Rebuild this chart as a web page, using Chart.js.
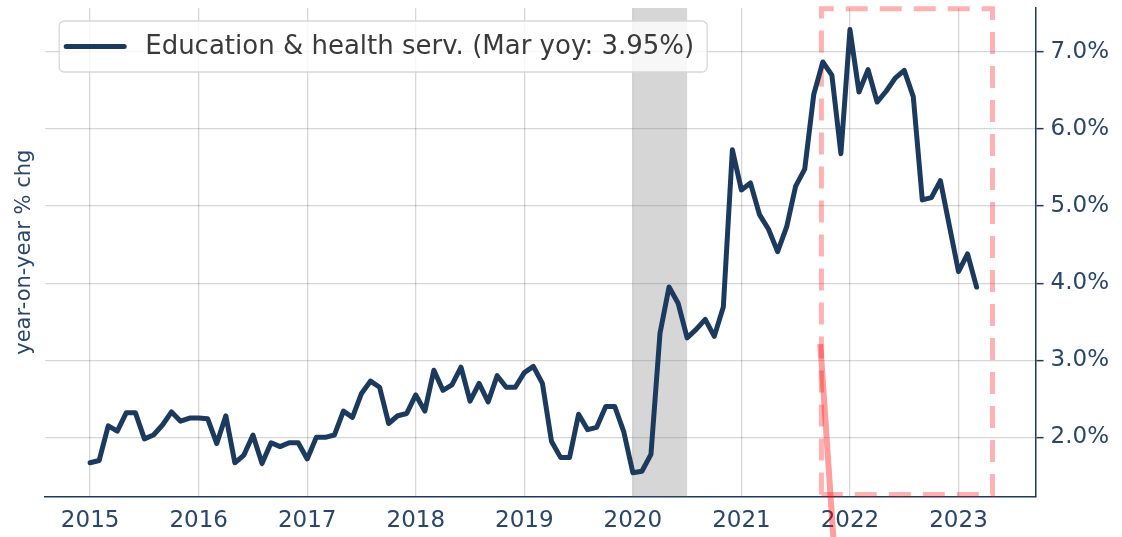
<!DOCTYPE html>
<html>
<head>
<meta charset="utf-8">
<script src="https://cdn.jsdelivr.net/npm/chart.js@4/dist/chart.umd.min.js"></script>
<style>
  html, body { margin: 0; padding: 0; background: #fff; }
</style>
</head>
<body>
<canvas id="cntEduHealth_Grafica" width="1122" height="537"></canvas>
<script>
var serieLabel = 'Education & health serv. (Mar yoy: 3.95%)';
var startYear = 2015;

// monthly yoy % chg, Jan 2015 .. Mar 2023
var eduHealthYoy = [
  1.67, 1.70, 2.15, 2.08, 2.32, 2.32, 1.98, 2.03, 2.16, 2.33, 2.21, 2.25,
  2.25, 2.24, 1.92, 2.28, 1.67, 1.77, 2.03, 1.66, 1.93, 1.88, 1.93, 1.93,
  1.72, 2.00, 2.00, 2.03, 2.34, 2.26, 2.57, 2.73, 2.65, 2.18, 2.28, 2.31,
  2.55, 2.34, 2.87, 2.61, 2.68, 2.91, 2.47, 2.70, 2.46, 2.80, 2.65, 2.65,
  2.84, 2.92, 2.70, 1.95, 1.74, 1.74, 2.30, 2.10, 2.13, 2.40, 2.40, 2.07,
  1.54, 1.56, 1.78, 3.35, 3.95, 3.74, 3.29, 3.40, 3.53, 3.31, 3.69, 5.73,
  5.21, 5.30, 4.89, 4.70, 4.41, 4.73, 5.26, 5.48, 6.45, 6.87, 6.70, 5.68,
  7.29, 6.48, 6.77, 6.35, 6.49, 6.66, 6.76, 6.42, 5.08, 5.11, 5.33, 4.74,
  4.15, 4.38, 3.95
];

var yearTicks = [2015, 2016, 2017, 2018, 2019, 2020, 2021, 2022, 2023];
var pctTicks = [2, 3, 4, 5, 6, 7];
var xRange = [2014.586, 2023.71];
var yRange = [1.234, 7.57];

// recession band and the red annotations
var recessionBand = [2020.0, 2020.5];
var boxX = [2021.737, 2021.737, 2023.313, 2023.313, 2021.737];
var boxY = [1.26, 7.56, 7.56, 1.26, 1.26];
var arrowX = [2021.727, 2021.847];
var arrowY = [3.21, 0.70];

var navy = '#1b3a5e';
var labelNavy = '#29466b';

function toPoints(xs, ys) {
  var pts = [];
  for (var i = 0; i < xs.length; i++) pts.push({x: xs[i], y: ys[i]});
  return pts;
}

var seriePoints = eduHealthYoy.map(function(v, i) {
  return {x: startYear + i / 12, y: v};
});

var recessionPlugin = {
  id: 'recession',
  beforeDatasetsDraw: function(chart) {
    var ctx = chart.ctx, area = chart.chartArea, sx = chart.scales.x;
    var x0 = sx.getPixelForValue(recessionBand[0]);
    var x1 = sx.getPixelForValue(recessionBand[1]);
    ctx.save();
    ctx.fillStyle = 'rgba(128,128,128,0.32)';
    ctx.fillRect(x0, area.top, x1 - x0, area.bottom - area.top);
    ctx.restore();
  }
};

var legendPlugin = {
  id: 'floatLegend',
  afterDraw: function(chart) {
    var ctx = chart.ctx, area = chart.chartArea;
    var ds = chart.data.datasets[0];
    var x0 = area.left + 14, y0 = area.top + 13, h = 51;
    ctx.save();
    ctx.font = '26px "DejaVu Sans"';
    var tw = ctx.measureText(ds.label).width;
    var textX = x0 + 86;
    var w = textX - x0 + tw + 13;
    ctx.beginPath();
    ctx.roundRect(x0, y0, w, h, 5);
    ctx.fillStyle = 'rgba(255,255,255,0.8)';
    ctx.fill();
    ctx.strokeStyle = '#d8d8d8';
    ctx.lineWidth = 1.3;
    ctx.stroke();
    ctx.beginPath();
    ctx.moveTo(x0 + 7, y0 + h / 2);
    ctx.lineTo(x0 + 65, y0 + h / 2);
    ctx.strokeStyle = ds.borderColor;
    ctx.lineWidth = 5;
    ctx.lineCap = 'round';
    ctx.stroke();
    ctx.fillStyle = '#3a3a3a';
    ctx.textBaseline = 'middle';
    ctx.fillText(ds.label, textX, y0 + h / 2 + 1);
    ctx.restore();
  }
};

var ctx = document.getElementById('cntEduHealth_Grafica').getContext('2d');

window.cntEduHealth_Grafica_ = new Chart(ctx, {
  type: 'line',
  data: {
    datasets: [{
      label: serieLabel,
      data: seriePoints,
      borderColor: navy,
      borderWidth: 5,
      pointRadius: 0,
      tension: 0,
      borderJoinStyle: 'round',
      borderCapStyle: 'round',
      order: 1
    }, {
      label: 'box',
      data: toPoints(boxX, boxY),
      borderColor: 'rgba(255,0,0,0.3)',
      borderWidth: 5,
      borderDash: [22, 12],
      pointRadius: 0,
      tension: 0,
      clip: false,
      order: 2
    }, {
      label: 'arrow',
      data: toPoints(arrowX, arrowY),
      borderColor: 'rgba(255,0,0,0.38)',
      borderWidth: 6,
      pointRadius: 0,
      tension: 0,
      clip: false,
      order: 0
    }]
  },
  options: {
    responsive: false,
    animation: false,
    devicePixelRatio: 1,
    events: [],
    layout: { padding: { top: 8, right: 6, bottom: -9, left: 11 } },
    plugins: {
      legend: { display: false },
      tooltip: { enabled: false }
    },
    scales: {
      x: {
        type: 'linear',
        min: xRange[0],
        max: xRange[1],
        afterBuildTicks: function(axis) {
          axis.ticks = yearTicks.map(function(v) { return {value: v}; });
        },
        grid: { color: 'rgba(0,0,0,0.16)', lineWidth: 1.3, drawTicks: false },
        border: { color: navy, width: 1.5 },
        ticks: {
          color: labelNavy,
          font: { family: 'DejaVu Sans', size: 23 },
          padding: 11,
          maxRotation: 0,
          callback: function(v) { return String(v); }
        }
      },
      y: {
        type: 'linear',
        position: 'right',
        min: yRange[0],
        max: yRange[1],
        afterBuildTicks: function(axis) {
          axis.ticks = pctTicks.map(function(v) { return {value: v}; });
        },
        afterFit: function(axis) {
          axis.paddingTop = 0;
          axis.paddingBottom = 0;
        },
        grid: { color: 'rgba(0,0,0,0.16)', lineWidth: 1.3, tickColor: navy, tickLength: 8, tickWidth: 1.5 },
        border: { color: navy, width: 1.5 },
        ticks: {
          color: labelNavy,
          font: { family: 'DejaVu Sans', size: 23 },
          padding: 7,
          callback: function(v) { return v.toFixed(1) + '%'; }
        }
      },
      yTitle: {
        type: 'linear',
        position: 'left',
        min: yRange[0],
        max: yRange[1],
        ticks: { display: false },
        grid: { display: false, drawTicks: false },
        border: { display: false },
        title: {
          display: true,
          text: 'year-on-year % chg',
          color: labelNavy,
          font: { family: 'DejaVu Sans', size: 21 },
          padding: { top: 1, bottom: 8 }
        }
      }
    }
  },
  plugins: [recessionPlugin, legendPlugin]
});
</script>
</body>
</html>
